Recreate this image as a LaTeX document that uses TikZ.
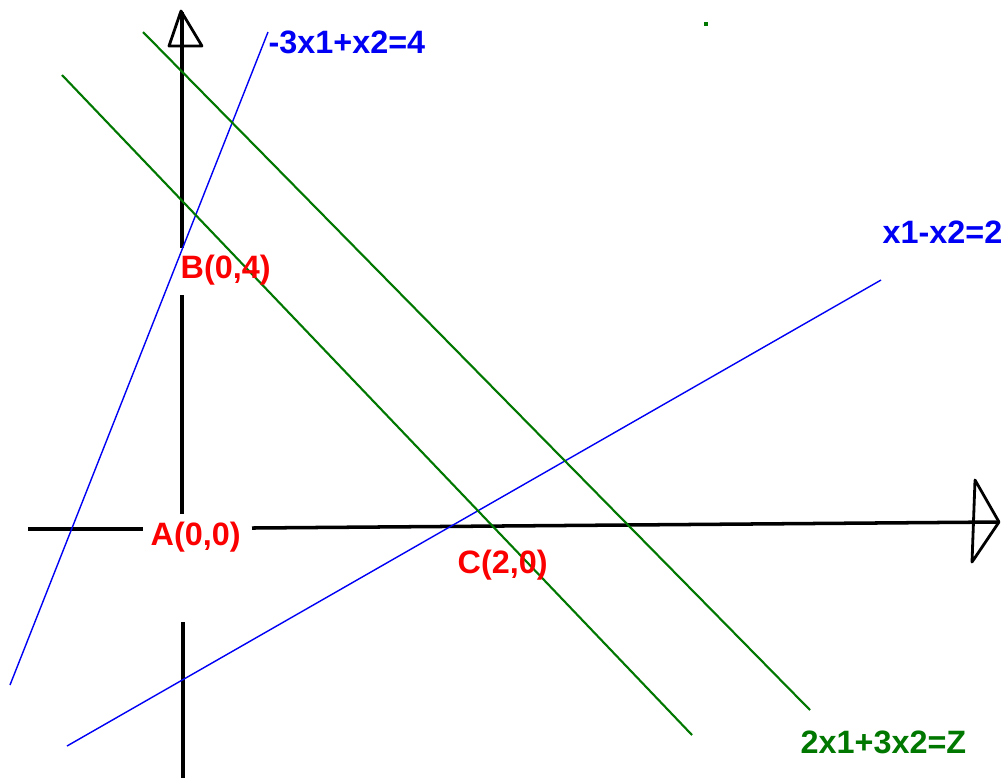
\documentclass[tikz,border=0pt]{standalone}
\usepackage{fontspec}
\setmainfont{Liberation Sans}
\definecolor{lblue}{RGB}{0,0,245}
\definecolor{lgreen}{RGB}{0,120,0}
\definecolor{lred}{RGB}{250,0,0}
\begin{document}
\begin{tikzpicture}[x=0.01cm,y=-0.01cm,
  axisline/.style={black,line width=1pt},
  arrowhead/.style={black,line width=0.8pt,line join=round},
  blueline/.style={lblue,line width=0.4pt},
  greenline/.style={lgreen,line width=0.6pt},
  lbl/.style={inner sep=0pt,font=\fontsize{9.2pt}{10pt}\selectfont\bfseries},
  pointlbl/.style={lbl,text=lred},
  bluelbl/.style={lbl,text=lblue},
  greenlbl/.style={lbl,text=lgreen}]
\useasboundingbox[fill=white] (0,0) rectangle (1001,778);
% axis coordinates
\coordinate (vtop) at (182,12);
\coordinate (vb1) at (182,248);
\coordinate (vb2) at (182,295);
\coordinate (vb3) at (182,514);
\coordinate (vb4) at (183,622);
\coordinate (vbot) at (183,778);
\coordinate (hl) at (28,529);
\coordinate (hl2) at (143,529);
\coordinate (hr1) at (252,528);
\coordinate (hr) at (998,522);
% vertical axis
\draw[axisline] (vtop) -- (vb1);
\draw[axisline] (vb2) -- (vb3);
\draw[axisline] (vb4) -- (vbot);
% horizontal axis
\draw[axisline] (hl) -- (hl2);
\draw[axisline] (hr1) -- (hr);
% arrowheads
\coordinate (ta) at (181,11);
\coordinate (tl) at (169,46);
\coordinate (tr) at (202,46);
\draw[arrowhead] (ta) -- (tl) -- (tr) -- cycle;
\coordinate (ra) at (999,522);
\coordinate (rt) at (975,480);
\coordinate (rb) at (972,562);
\draw[arrowhead] (ra) -- (rt) -- (rb) -- cycle;
% constraint lines
\coordinate (b1a) at (10,685);
\coordinate (b1b) at (268,32);
\draw[blueline] (b1a) -- (b1b);
\coordinate (b2a) at (67,746);
\coordinate (b2b) at (881,280);
\draw[blueline] (b2a) -- (b2b);
% objective lines
\coordinate (g1a) at (62,75);
\coordinate (g1b) at (692,735);
\draw[greenline] (g1a) -- (g1b);
\coordinate (g2a) at (143,32);
\coordinate (g2b) at (810,710);
\draw[greenline] (g2a) -- (g2b);
% green dot
\fill[lgreen] (704,22) rectangle (708,26);
% labels
\node[bluelbl,anchor=west] (l1) at (268,42) {-3x1+x2=4};
\node[bluelbl,anchor=west] (l2) at (882,232) {x1-x2=2};
\node[greenlbl,anchor=west] (l3) at (800,742) {2x1+3x2=Z};
\node[pointlbl,anchor=west] (pB) at (180,270) {B(0,4)};
\node[pointlbl,anchor=west] (pA) at (150,537) {A(0,0)};
\node[pointlbl,anchor=west] (pC) at (457,565) {C(2,0)};
\end{tikzpicture}
\end{document}
